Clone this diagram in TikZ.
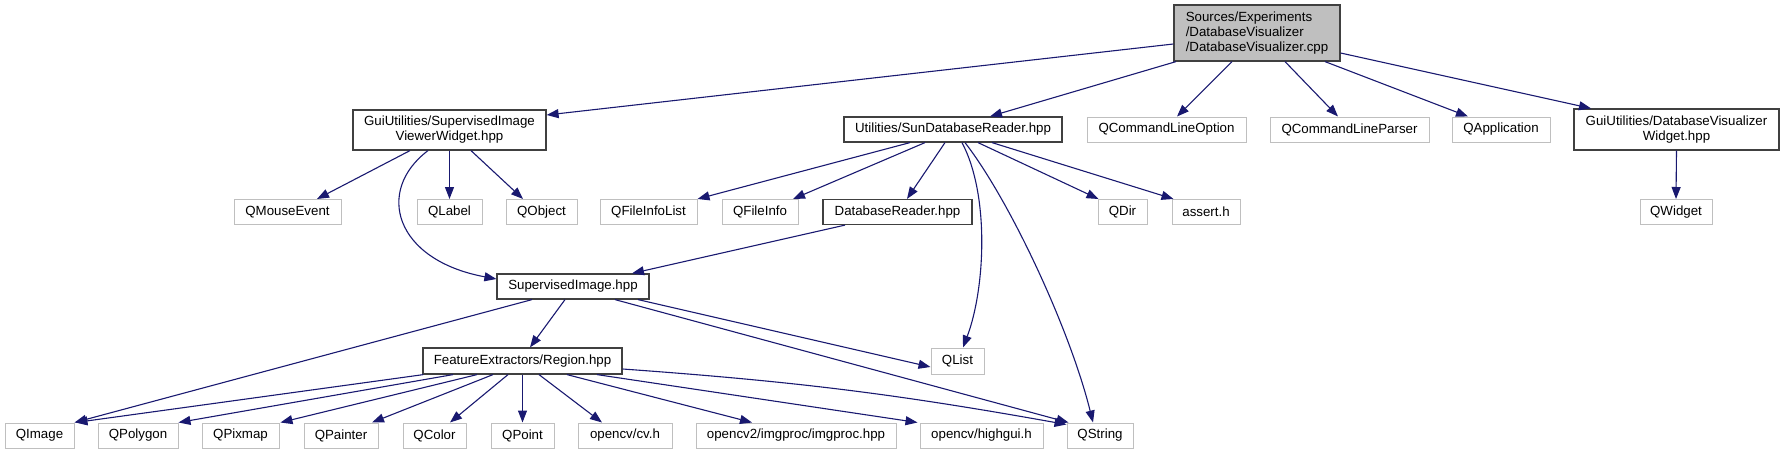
\documentclass[tikz,border=0pt]{standalone}
\usepackage{fontspec}
\setmainfont{Liberation Sans}
\usetikzlibrary{arrows.meta}
\definecolor{edgec}{HTML}{191970}
\definecolor{graybd}{HTML}{BFBFBF}
\definecolor{darkbd}{HTML}{404040}
\definecolor{rootfill}{HTML}{BFBFBF}
\begin{document}
\begin{tikzpicture}[x=1pt,y=-1pt,
  font=\fontsize{13.3}{15}\selectfont,
  box/.style={draw=darkbd, line width=1.2pt, inner sep=0pt, minimum height=25pt, align=center, fill=white},
  ext/.style={draw=graybd, line width=1pt, inner sep=0pt, minimum height=25pt, fill=white},
  edge/.style={draw=edgec, line width=1.1pt, -{Triangle[length=12pt,width=9pt]}}]
\useasboundingbox (0,0) rectangle (1783,455);
% row 0
\node[box, fill=rootfill, minimum width=166pt, minimum height=56pt, align=left] (root) at (1257,33)
  {Sources/Experiments\\/DatabaseVisualizer\\/DatabaseVisualizer.cpp};
% row 1
\node[box, minimum width=193pt, minimum height=40pt] (sivw) at (449.5,130) {GuiUtilities/SupervisedImage\\ViewerWidget.hpp};
\node[box, minimum width=218pt] (sdbr) at (953,129.5) {Utilities/SunDatabaseReader.hpp};
\node[ext, minimum width=159pt] (qclo) at (1166.5,129.5) {QCommandLineOption};
\node[ext, minimum width=159pt] (qclp) at (1349.5,129.5) {QCommandLineParser};
\node[ext, minimum width=98pt] (qapp) at (1501,129.5) {QApplication};
\node[box, minimum width=205pt, minimum height=41pt] (dbvw) at (1676.5,129.5) {GuiUtilities/DatabaseVisualizer\\Widget.hpp};
% row 2
\node[ext, minimum width=107pt] (qmouse) at (287.5,212) {QMouseEvent};
\node[ext, minimum width=65pt] (qlabel) at (449.5,212) {QLabel};
\node[ext, minimum width=71pt] (qobject) at (541.5,212) {QObject};
\node[ext, minimum width=97pt] (qfil) at (648.5,212) {QFileInfoList};
\node[ext, minimum width=76pt] (qfi) at (760,212) {QFileInfo};
\node[box, minimum width=149pt] (dbr) at (897.5,212) {DatabaseReader.hpp};
\node[ext, minimum width=49pt] (qdir) at (1122.5,212) {QDir};
\node[ext, minimum width=68pt] (assert) at (1206,212) {assert.h};
\node[ext, minimum width=72pt] (qwidget) at (1676,212) {QWidget};
% row 3
\node[box, minimum width=152pt] (simg) at (573,286.5) {SupervisedImage.hpp};
% row 4
\node[box, minimum width=199pt, minimum height=26pt] (region) at (522.5,361) {FeatureExtractors/Region.hpp};
\node[ext, minimum width=53pt, minimum height=26pt] (qlist) at (957.5,361) {QList};
% row 5
\node[ext, minimum width=69pt] (qimage) at (39.5,435.5) {QImage};
\node[ext, minimum width=80pt] (qpolygon) at (138,435.5) {QPolygon};
\node[ext, minimum width=77pt] (qpixmap) at (240.5,435.5) {QPixmap};
\node[ext, minimum width=74pt] (qpainter) at (341,435.5) {QPainter};
\node[ext, minimum width=63pt] (qcolor) at (434.5,435.5) {QColor};
\node[ext, minimum width=63pt] (qpoint) at (522.5,435.5) {QPoint};
\node[ext, minimum width=94pt] (cvh) at (625,435.5) {opencv/cv.h};
\node[ext, minimum width=200pt] (imgproc) at (796,435.5) {opencv2/imgproc/imgproc.hpp};
\node[ext, minimum width=123pt] (highgui) at (981.5,435.5) {opencv/highgui.h};
\node[ext, minimum width=66pt] (qstring) at (1100,435.5) {QString};
% edges from root
\draw[edge] ([yshift=-11pt]root.west) -- ([yshift=15pt]sivw.east);
\draw[edge] ([xshift=-81pt]root.south) -- ([xshift=37pt]sdbr.north);
\draw[edge] ([xshift=-25pt]root.south) -- ([xshift=10.5pt]qclo.north);
\draw[edge] ([xshift=28pt]root.south) -- ([xshift=-11.5pt]qclp.north);
\draw[edge] ([xshift=68pt]root.south) -- ([xshift=-33pt]qapp.north);
\draw[edge] ([yshift=-20pt]root.east) -- ([xshift=-85.5pt]dbvw.north);
% edges from sivw
\draw[edge] ([xshift=-39.5pt]sivw.south) -- ([xshift=29.5pt]qmouse.north);
\draw[edge] (sivw.south) -- (qlabel.north);
\draw[edge] ([xshift=21.5pt]sivw.south) -- ([xshift=-18.5pt]qobject.north);
\draw[edge] ([xshift=-21.5pt]sivw.south) .. controls +(-53,40) and +(-102,-19) .. ([yshift=7.5pt]simg.west);
% edges from sdbr
\draw[edge] ([xshift=-43pt]sdbr.south) -- (qfil.north east);
\draw[edge] ([xshift=-28pt]sdbr.south) -- ([xshift=33pt]qfi.north);
\draw[edge] ([xshift=-8pt]sdbr.south) -- ([xshift=9.5pt]dbr.north);
\draw[edge] ([xshift=9pt]sdbr.south) .. controls +(28,53) and +(22,-58) .. ([xshift=5.5pt]qlist.north);
\draw[edge] ([xshift=12pt]sdbr.south) .. controls +(45,58) and +(-23,-93) .. ([xshift=-7pt]qstring.north);
\draw[edge] ([xshift=25pt]sdbr.south) -- ([xshift=1pt]qdir.north west);
\draw[edge] ([xshift=39pt]sdbr.south) -- ([xshift=2pt]assert.north west);
% other
\draw[edge] ([xshift=-52.5pt]dbr.south) -- ([xshift=59pt]simg.north);
\draw[edge] (dbvw.south) -- (qwidget.north);
% from simg
\draw[edge] ([xshift=-41pt]simg.south) -- (qimage.north east);
\draw[edge] ([xshift=-8pt]simg.south) -- ([xshift=7.5pt]region.north);
\draw[edge] ([xshift=65pt]simg.south) -- ([yshift=-6pt]qlist.west);
\draw[edge] ([xshift=42pt]simg.south) -- ([xshift=2pt]qstring.north west);
% from region
\draw[edge] ([xshift=1pt]region.south west) -- ([xshift=1pt]qimage.north east);
\draw[edge] ([xshift=-69.5pt]region.south) -- (qpolygon.north east);
\draw[edge] ([xshift=-45.5pt]region.south) -- ([xshift=1pt]qpixmap.north east);
\draw[edge] ([xshift=-29.5pt]region.south) -- ([xshift=31pt]qpainter.north);
\draw[edge] ([xshift=-14.5pt]region.south) -- ([xshift=15.5pt]qcolor.north);
\draw[edge] (region.south) -- (qpoint.north);
\draw[edge] ([xshift=16.5pt]region.south) -- ([xshift=-23pt]cvh.north);
\draw[edge] ([xshift=44.5pt]region.south) -- ([xshift=-44pt]imgproc.north);
\draw[edge] ([xshift=74.5pt]region.south) -- ([xshift=-2pt]highgui.north west);
\draw[edge] ([yshift=-8pt]region.east) to[bend left=3] ([yshift=-2pt]qstring.north west);
\end{tikzpicture}
\end{document}
